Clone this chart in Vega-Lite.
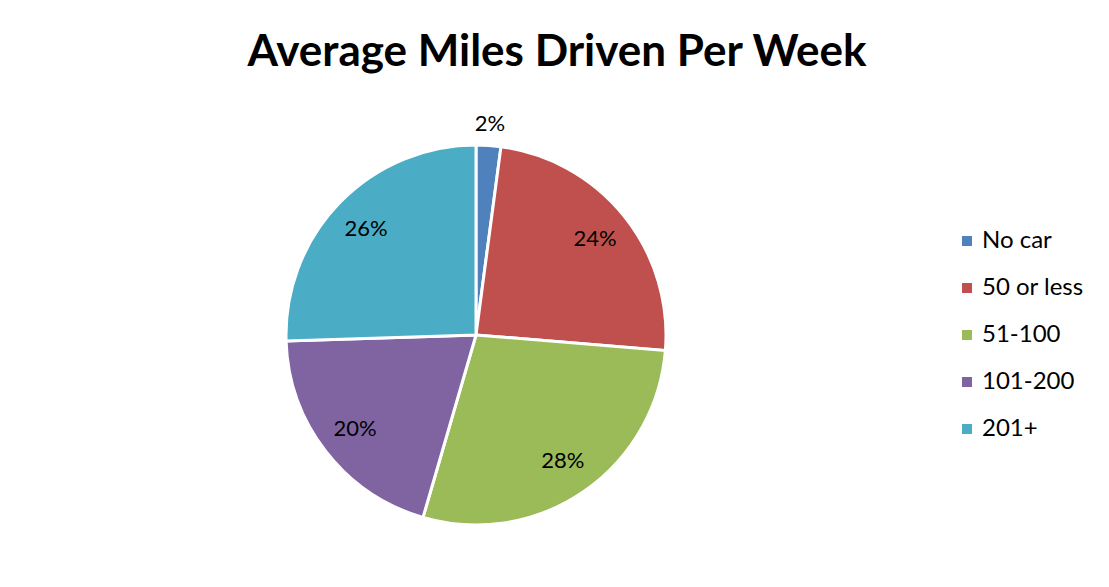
{
  "$schema": "https://vega.github.io/schema/vega-lite/v6.json",
  "autosize": "none",
  "width": 952,
  "height": 470,
  "padding": {"left": 0, "top": 100, "right": 157, "bottom": 17},
  "background": "white",
  "config": {"view": {"stroke": null}, "font": "Lato"},
  "title": {
    "text": "Average Miles Driven Per Week",
    "font": "Lato",
    "fontSize": 44,
    "fontWeight": "bold",
    "color": "black",
    "anchor": "middle",
    "dx": 81,
    "offset": 25
  },
  "data": {
    "values": [
      {"category": "No car", "value": 2.1, "label": "2%", "order": 1},
      {"category": "50 or less", "value": 24.2, "label": "24%", "order": 2},
      {"category": "51-100", "value": 28.2, "label": "28%", "order": 3},
      {"category": "101-200", "value": 20.0, "label": "20%", "order": 4},
      {"category": "201+", "value": 25.5, "label": "26%", "order": 5}
    ]
  },
  "encoding": {
    "theta": {"field": "value", "type": "quantitative", "stack": true},
    "order": {"field": "order", "type": "quantitative"}
  },
  "layer": [
    {
      "mark": {"type": "arc", "outerRadius": 190, "stroke": "white", "strokeWidth": 3},
      "encoding": {
        "color": {
          "field": "category",
          "type": "nominal",
          "sort": ["No car", "50 or less", "51-100", "101-200", "201+"],
          "scale": {
            "domain": ["No car", "50 or less", "51-100", "101-200", "201+"],
            "range": ["#4F81BD", "#C0504D", "#9BBB59", "#8064A2", "#4BACC6"]
          },
          "legend": {
            "title": null,
            "orient": "none",
            "legendX": 955,
            "legendY": 129,
            "symbolType": "square",
            "symbolSize": 100,
            "symbolStrokeWidth": 0,
            "labelFont": "Lato",
            "labelFontSize": 24,
            "labelColor": "black",
            "labelOffset": 3,
            "rowPadding": 23
          }
        }
      }
    },
    {
      "mark": {"type": "text", "radius": 153, "fontSize": 22, "font": "Lato", "color": "black"},
      "encoding": {
        "text": {"condition": {"test": "datum.category == 'No car'", "value": ""}, "field": "label"}
      }
    },
    {
      "mark": {"type": "text", "radius": 211, "fontSize": 22, "font": "Lato", "color": "black"},
      "encoding": {
        "text": {"condition": {"test": "datum.category != 'No car'", "value": ""}, "field": "label"}
      }
    }
  ]
}
